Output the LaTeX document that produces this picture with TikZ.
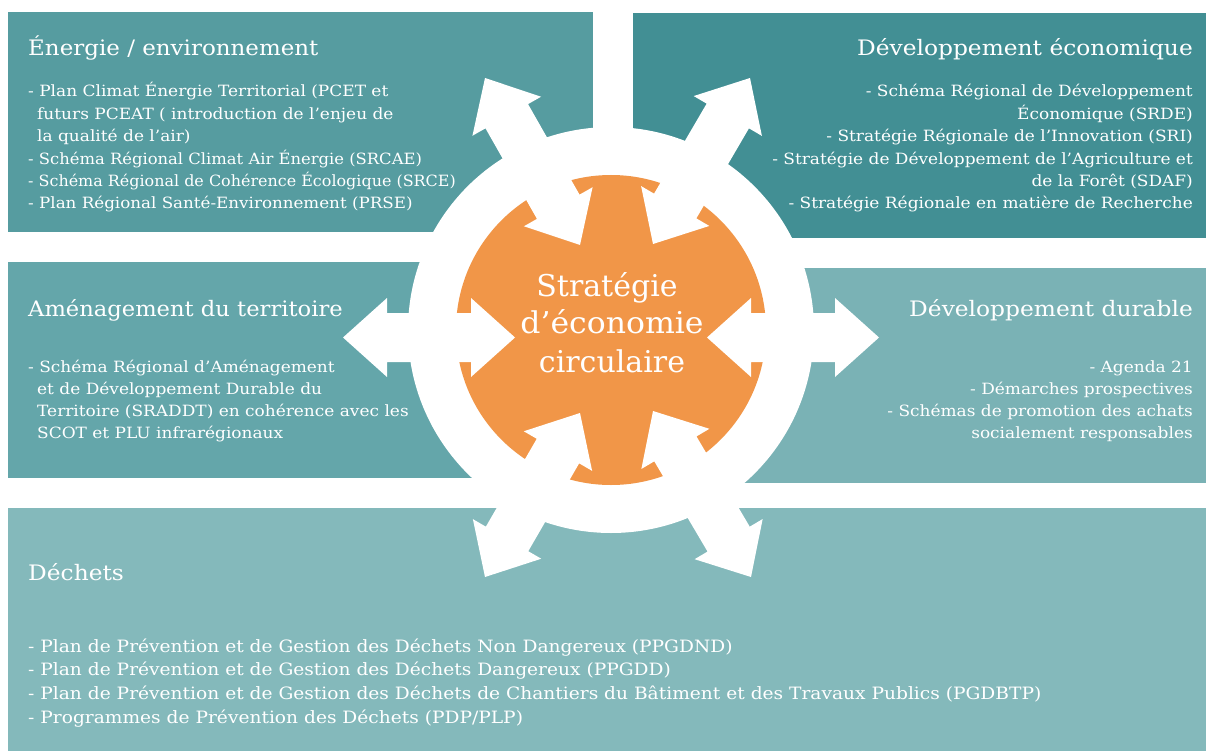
\documentclass[tikz,border=0pt]{standalone}
\usepackage{fontspec}
\setmainfont{DejaVu Serif}
\newfontfamily\wideserif[FakeStretch=1.095]{DejaVu Serif}
\usetikzlibrary{calc}
\definecolor{cTL}{HTML}{569CA0}
\definecolor{cTR}{HTML}{428F94}
\definecolor{cML}{HTML}{64A6AA}
\definecolor{cMR}{HTML}{7AB2B5}
\definecolor{cBT}{HTML}{84B9BB}
\definecolor{cOR}{HTML}{F19648}
\newcommand{\dblarrow}[3]{%
  \coordinate (#1i) at #2;
  \coordinate (#1o) at #3;
  \coordinate (#1a) at ($(#1i)!44pt!(#1o)$);
  \coordinate (#1b) at ($(#1o)!44pt!(#1i)$);
  \fill[white] (#1i) -- ($(#1a)!39.5pt!90:(#1o)$) -- ($(#1a)!24.5pt!90:(#1o)$)
    -- ($(#1b)!24.5pt!-90:(#1i)$) -- ($(#1b)!39.5pt!-90:(#1i)$) -- (#1o)
    -- ($(#1b)!39.5pt!90:(#1i)$) -- ($(#1b)!24.5pt!90:(#1i)$)
    -- ($(#1a)!24.5pt!-90:(#1o)$) -- ($(#1a)!39.5pt!-90:(#1o)$) -- cycle;}
\tikzset{
  ttl/.style={font=\wideserif\fontsize{21.3}{25}\selectfont, text=white, inner sep=0pt},
  bodytxt/.style={font=\wideserif\fontsize{15.5}{18}\selectfont, text=white, inner sep=0pt},
  bigbody/.style={font=\wideserif\fontsize{17}{19}\selectfont, text=white, inner sep=0pt},
  centertxt/.style={font=\fontsize{30}{34}\selectfont, text=white, inner sep=0pt},
}
\begin{document}
\begin{tikzpicture}[x=1pt,y=-1pt]
\useasboundingbox (0,0) rectangle (1206,751);
\fill[white] (0,0) rectangle (1206,751);
% boxes
\fill[cTL] (8,12) rectangle (593,232);
\fill[cTR] (633,13) rectangle (1206,238);
\fill[cML] (8,262) rectangle (500,478);
\fill[cMR] (720,268) rectangle (1206,483);
\fill[cBT] (8,508) rectangle (1206,751);
% central disk
\coordinate (C) at (611,330);
\fill[white] (C) circle[radius=203];
\fill[cOR] (C) circle[radius=155];
% arrows (inner tip, outer tip)
\dblarrow{w}{(515,337.5)}{(343,337.5)}
\dblarrow{e}{(707,337.5)}{(879,337.5)}
\dblarrow{nw}{(580,245)}{(485,78)}
\dblarrow{ne}{(653,244)}{(750,78)}
\dblarrow{sw}{(580,413)}{(485,577)}
\dblarrow{se}{(653,411)}{(751,577)}
% centre text
\node[centertxt, anchor=base] (c1) at (607,296) {Stratégie};
\node[centertxt, anchor=base] (c2) at (612,333) {\scalebox{1.05}[1]{d’économie}};
\node[centertxt, anchor=base] (c3) at (612,372) {circulaire};
% top-left
\node[ttl, anchor=base west] (tlt) at (28,56) {\scalebox{0.985}[1]{Énergie / environnement}};
\foreach \txt [count=\i] in {
  {- Plan Climat Énergie Territorial (PCET et},
  {\hspace*{9pt}futurs PCEAT ( introduction de l’enjeu de},
  {\hspace*{9pt}la qualité de l’air)},
  {\scalebox{0.965}[1]{- Schéma Régional Climat Air Énergie (SRCAE)}},
  {\scalebox{0.94}[1]{- Schéma Régional de Cohérence Écologique (SRCE)}},
  {\scalebox{0.985}[1]{- Plan Régional Santé-Environnement (PRSE)}}}
  \node[bodytxt, anchor=base west] (tl\i) at (28,{97+22.4*(\i-1)}) {\txt};
% top-right
\node[ttl, anchor=base east] (trt) at (1193,56) {Développement économique};
\foreach \txt [count=\i] in {
  {- Schéma Régional de Développement},
  {Économique (SRDE)},
  {- Stratégie Régionale de l’Innovation (SRI)},
  {- Stratégie de Développement de l’Agriculture et},
  {de la Forêt (SDAF)},
  {- Stratégie Régionale en matière de Recherche}}
  \node[bodytxt, anchor=base east] (tr\i) at (1193,{97+22.4*(\i-1)}) {\txt};
% middle-left
\node[ttl, anchor=base west] (mlt) at (28,316) {\scalebox{0.97}[1]{Aménagement du territoire}};
\foreach \txt [count=\i] in {
  {- Schéma Régional d’Aménagement},
  {\hspace*{9pt}et de Développement Durable du},
  {\hspace*{9pt}Territoire (SRADDT) en cohérence avec les},
  {\hspace*{9pt}SCOT et PLU infrarégionaux}}
  \node[bodytxt, anchor=base west] (ml\i) at (28,{372+22.3*(\i-1)}) {\txt};
% middle-right
\node[ttl, anchor=base east] (mrt) at (1193,316) {Développement durable};
\foreach \txt [count=\i] in {
  {- Agenda 21},
  {- Démarches prospectives},
  {- Schémas de promotion des achats},
  {socialement responsables}}
  \node[bodytxt, anchor=base east] (mr\i) at (1193,{372+22.3*(\i-1)}) {\txt};
% bottom
\node[ttl, anchor=base west] (bt) at (28,580) {Déchets};
\foreach \txt [count=\i] in {
  {- Plan de Prévention et de Gestion des Déchets Non Dangereux (PPGDND)},
  {- Plan de Prévention et de Gestion des Déchets Dangereux (PPGDD)},
  {- Plan de Prévention et de Gestion des Déchets de Chantiers du Bâtiment et des Travaux Publics (PGDBTP)},
  {- Programmes de Prévention des Déchets (PDP/PLP)}}
  \node[bigbody, anchor=base west] (b\i) at (28,{652+23.7*(\i-1)}) {\txt};
\end{tikzpicture}
\end{document}
